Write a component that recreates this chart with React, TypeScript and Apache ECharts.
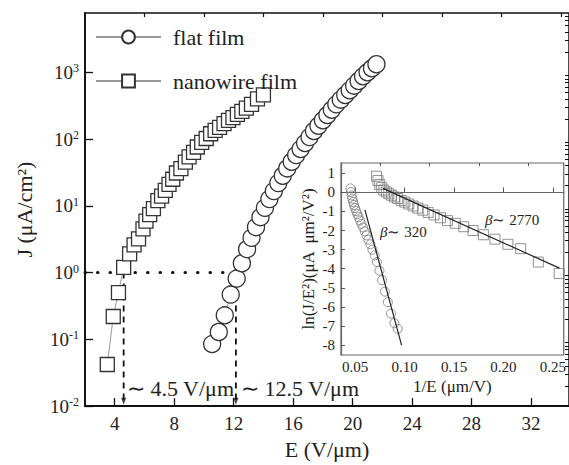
import React, { useEffect, useRef } from "react";
import * as echarts from "echarts";

// ---- main plot data: E (V/um) vs J (uA/cm^2)
const flatE = [10.55, 11.0, 11.4, 11.8, 12.2, 12.55, 12.9, 13.2, 13.5, 13.8, 14.1, 14.4, 14.7, 15.0, 15.3, 15.6, 15.9, 16.2, 16.5, 16.8, 17.1, 17.4, 17.7, 18.0, 18.3, 18.6, 18.9, 19.2, 19.5, 19.8, 20.1, 20.4, 20.7, 21.0, 21.3, 21.6];
const flatJ = [0.085, 0.129, 0.229, 0.468, 0.813, 1.38, 2.24, 3.31, 4.79, 6.76, 9.33, 12.6, 16.6, 21.9, 28.2, 36.3, 45.7, 57.5, 70.8, 87.1, 107, 132, 158, 191, 229, 275, 331, 389, 457, 537, 631, 741, 871, 1000, 1148, 1318];
const nanoE = [3.5, 3.9, 4.25, 4.6, 5.0, 5.3, 5.6, 5.9, 6.1, 6.35, 6.6, 6.9, 7.15, 7.4, 7.65, 7.9, 8.15, 8.45, 8.75, 9.0, 9.3, 9.55, 9.85, 10.15, 10.45, 10.75, 11.05, 11.35, 11.65, 11.95, 12.25, 12.55, 12.85, 13.2, 13.6, 14.0];
const nanoJ = [0.042, 0.22, 0.5, 1.2, 1.9, 2.6, 3.2, 4.5, 5.9, 7.4, 9.1, 12, 14, 17, 21, 25, 31, 36, 45, 54, 63, 76, 89, 102, 120, 135, 150, 170, 190, 210, 235, 260, 290, 330, 400, 460];

// thresholds
const thresholdE = [4.6, 12.15];
const thresholdJ = 1;

// main axes ticks
const xMajor = [4, 8, 12, 16, 20, 24, 28, 32];
const xMinor = [6, 10, 14, 18, 22, 26, 30, 34];
const yMajor = [0.01, 0.1, 1, 10, 100, 1000];
const yMinor = [0.02, 0.03, 0.04, 0.05, 0.06, 0.07, 0.08, 0.09, 0.2, 0.3, 0.4, 0.5, 0.6, 0.7, 0.8, 0.9, 2, 3, 4, 5, 6, 7, 8, 9, 20, 30, 40, 50, 60, 70, 80, 90, 200, 300, 400, 500, 600, 700, 800, 900, 2000, 3000, 4000, 5000, 6000, 7000];

// ---- inset data: 1/E (um/V) vs ln(J/E^2)
const insetFlatX = [0.0451, 0.0457, 0.0464, 0.0471, 0.0479, 0.0488, 0.0498, 0.0509, 0.0521, 0.0534, 0.0548, 0.0563, 0.0579, 0.0596, 0.0614, 0.0633, 0.0653, 0.0674, 0.0697, 0.072, 0.0745, 0.0772, 0.08, 0.083, 0.0862, 0.0896, 0.093];
const insetFlatY = [0.21, 0.02, -0.16, -0.33, -0.5, -0.66, -0.82, -0.98, -1.14, -1.3, -1.47, -1.65, -1.84, -2.04, -2.25, -2.48, -2.72, -3.0, -3.3, -3.65, -4.1, -4.6, -5.2, -5.75, -6.35, -6.85, -7.15];
const insetNanoX = [0.0715, 0.073, 0.0748, 0.0768, 0.079, 0.0814, 0.084, 0.0868, 0.0898, 0.093, 0.0965, 0.1002, 0.1042, 0.1085, 0.1132, 0.1183, 0.1238, 0.1298, 0.1363, 0.1434, 0.1512, 0.1598, 0.1692, 0.1797, 0.1914, 0.2045, 0.2174, 0.2353, 0.2564];
const insetNanoY = [0.85, 0.62, 0.42, 0.25, 0.12, 0.02, -0.07, -0.15, -0.24, -0.32, -0.42, -0.51, -0.61, -0.71, -0.82, -0.93, -1.05, -1.18, -1.33, -1.48, -1.62, -1.8, -2.0, -2.22, -2.45, -2.72, -2.95, -3.65, -4.25];
const insetFlatFit = [[0.0598, -0.92], [0.0969, -8.0]];
const insetNanoFit = [[0.078, 0.21], [0.2567, -3.97]];
const insetXMajor = [0.05, 0.1, 0.15, 0.2, 0.25];
const insetXMinor = [0.075, 0.125, 0.175, 0.225];
const insetYTicks = [-8, -7, -6, -5, -4, -3, -2, -1, 0, 1];

const FONT = "Liberation Serif";
const INK = "#222";

export default function App() {
  const ref = useRef<HTMLDivElement>(null);
  useEffect(() => {
    document.body.style.margin = "0";
    const chart = echarts.init(ref.current!, undefined, { renderer: "svg" });
    const markerStyle = { color: "#fff", borderColor: "#333", borderWidth: 1.3 };
    const option: any = {
      animation: false,
      legend: {
        left: 95,
        top: 26,
        orient: "vertical",
        itemWidth: 65,
        itemHeight: 16,
        itemGap: 22,
        padding: 0,
        textStyle: { fontFamily: FONT, fontSize: 22, color: INK, padding: [0, 0, 0, 7] },
        data: ["flat film", "nanowire film"],
        selectedMode: false,
      },
      grid: [
        { left: 85, right: -2, top: 13, bottom: 54, show: true, borderColor: "#111", borderWidth: 1.5, backgroundColor: "transparent" },
        { left: 341, right: -2, top: 163, bottom: 110, show: true, borderColor: "#666", borderWidth: 1.2, backgroundColor: "#fff" },
      ],
      xAxis: [
        {
          type: "value", gridIndex: 0, min: 2, max: 34.55,
          name: "E (V/\u03bcm)", nameLocation: "middle", nameGap: 30,
          nameTextStyle: { fontFamily: FONT, fontSize: 22, color: INK },
          axisLine: { lineStyle: { color: "#111", width: 1.8 } },
          axisTick: { inside: true, length: 8, customValues: xMajor, lineStyle: { color: "#111", width: 1.3 } },
          axisLabel: { customValues: xMajor, fontFamily: FONT, fontSize: 19, color: INK, margin: 8 },
          splitLine: { show: false },
        },
        {
          type: "value", gridIndex: 0, min: 2, max: 34.55,
          axisLine: { show: false },
          axisTick: { inside: true, length: 4, customValues: xMinor, lineStyle: { color: "#111", width: 1.2 } },
          axisLabel: { show: false },
          splitLine: { show: false },
        },
        {
          type: "value", gridIndex: 1, min: 0.0356, max: 0.261,
          name: "1/E (\u03bcm/V)", nameLocation: "middle", nameGap: 23,
          nameTextStyle: { fontFamily: FONT, fontSize: 17, color: INK },
          axisLine: { lineStyle: { color: "#666", width: 1.2 } },
          axisTick: { inside: true, length: 5, customValues: insetXMajor, lineStyle: { color: "#555" } },
          axisLabel: { customValues: insetXMajor, fontFamily: FONT, fontSize: 15, color: INK, margin: 4, formatter: (v: number) => v.toFixed(2) },
          splitLine: { show: false },
        },
        {
          type: "value", gridIndex: 1, min: 0.0356, max: 0.261,
          axisLine: { show: false },
          axisTick: { inside: true, length: 3, customValues: insetXMinor, lineStyle: { color: "#555" } },
          axisLabel: { show: false },
          splitLine: { show: false },
        },
      ],
      yAxis: [
        {
          type: "log", gridIndex: 0, min: 0.01, max: 7730, logBase: 10,
          name: "J (\u03bcA/cm\u00b2)", nameLocation: "middle", nameGap: 50,
          nameTextStyle: { fontFamily: FONT, fontSize: 22, color: INK },
          axisLine: { lineStyle: { color: "#111", width: 1.8 } },
          axisTick: { inside: true, length: 8, customValues: yMajor, lineStyle: { color: "#111", width: 1.3 } },
          axisLabel: {
            customValues: yMajor, margin: 6,
            formatter: (v: number) => `{b|10}{s|${Math.round(Math.log10(v))}}`,
            rich: {
              b: { fontFamily: FONT, fontSize: 19, color: INK },
              s: { fontFamily: FONT, fontSize: 12, color: INK, verticalAlign: "top", padding: [0, 0, 8, 0] },
            },
          },
          splitLine: { show: false },
        },
        {
          type: "log", gridIndex: 0, min: 0.01, max: 7730, logBase: 10,
          axisLine: { show: false },
          axisTick: { inside: true, length: 4, customValues: yMinor, lineStyle: { color: "#111", width: 1 } },
          axisLabel: { show: false },
          splitLine: { show: false },
        },
        {
          type: "value", gridIndex: 1, min: -8.52, max: 1.54,
          name: "ln(J/E\u00b2)(\u03bcA  \u03bcm\u00b2/V\u00b2)", nameLocation: "middle", nameGap: 24,
          nameTextStyle: { fontFamily: FONT, fontSize: 17, color: INK },
          axisLine: { lineStyle: { color: "#666", width: 1.2 } },
          axisTick: { inside: true, length: 4, customValues: insetYTicks, lineStyle: { color: "#555" } },
          axisLabel: { customValues: insetYTicks, fontFamily: FONT, fontSize: 15, color: INK, margin: 6 },
          splitLine: { show: false },
        },
      ],
      series: [
        {
          type: "line", name: "threshold-h", xAxisIndex: 0, yAxisIndex: 0, silent: true, symbol: "none",
          data: [[2, thresholdJ], [thresholdE[1], thresholdJ]],
          lineStyle: { color: "#111", width: 3, type: [0.5, 12], cap: "round" },
          z: 1,
        },
        ...thresholdE.map((e) => ({
          type: "line", xAxisIndex: 0, yAxisIndex: 0, silent: true, symbol: "none",
          data: [[e, thresholdJ], [e, 0.0108]],
          lineStyle: { color: "#111", width: 1.8, type: [6, 5] },
          z: 1,
        })),
        {
          type: "scatter", xAxisIndex: 0, yAxisIndex: 0, silent: true,
          data: thresholdE.map((e) => [e, 0.0118]),
          symbol: "triangle", symbolRotate: 180, symbolSize: [5, 7],
          itemStyle: { color: "#111" },
          z: 1,
        },
        {
          type: "line", name: "flat film", xAxisIndex: 0, yAxisIndex: 0,
          data: flatE.map((e, i) => [e, flatJ[i]]),
          symbol: "circle", symbolSize: 17, itemStyle: markerStyle,
          lineStyle: { color: "#999", width: 1 }, emphasis: { disabled: true },
        },
        {
          type: "line", name: "nanowire film", xAxisIndex: 0, yAxisIndex: 0,
          data: nanoE.map((e, i) => [e, nanoJ[i]]),
          symbol: "rect", symbolSize: 14, itemStyle: markerStyle,
          lineStyle: { color: "#999", width: 1 }, emphasis: { disabled: true },
        },
        {
          type: "scatter", xAxisIndex: 2, yAxisIndex: 2, silent: true,
          data: insetFlatX.map((x, i) => [x, insetFlatY[i]]),
          symbol: "circle", symbolSize: 9,
          itemStyle: { color: "transparent", borderColor: "#777", borderWidth: 1 },
          z: 5,
        },
        {
          type: "scatter", xAxisIndex: 2, yAxisIndex: 2, silent: true,
          data: insetNanoX.map((x, i) => [x, insetNanoY[i]]),
          symbol: "rect", symbolSize: 10,
          itemStyle: { color: "transparent", borderColor: "#777", borderWidth: 1 },
          z: 5,
        },
        {
          type: "line", xAxisIndex: 2, yAxisIndex: 2, silent: true, symbol: "none",
          data: insetFlatFit, lineStyle: { color: "#222", width: 1.2 }, z: 6,
        },
        {
          type: "line", xAxisIndex: 2, yAxisIndex: 2, silent: true, symbol: "none",
          data: insetNanoFit, lineStyle: { color: "#222", width: 1.2 }, z: 6,
        },
      ],
      graphic: [
        { type: "text", left: 127, top: 377, style: { text: "\u223c 4.5 V/\u03bcm", fontFamily: FONT, fontSize: 22, fill: INK } },
        { type: "text", left: 241, top: 377, style: { text: "\u223c 12.5 V/\u03bcm", fontFamily: FONT, fontSize: 22, fill: INK } },
        {
          type: "text", left: 485, top: 212, z: 10,
          style: {
            text: "{i|\u03b2}{n|\u223c 2770}",
            rich: { i: { fontFamily: FONT, fontStyle: "italic", fontSize: 15, fill: INK }, n: { fontFamily: FONT, fontSize: 15, fill: INK } },
          },
        },
        {
          type: "text", left: 380, top: 224, z: 10,
          style: {
            text: "{i|\u03b2}{n|\u223c 320}",
            rich: { i: { fontFamily: FONT, fontStyle: "italic", fontSize: 15, fill: INK }, n: { fontFamily: FONT, fontSize: 15, fill: INK } },
          },
        },
      ],
    };
    chart.setOption(option);
    return () => chart.dispose();
  }, []);
  return <div ref={ref} style={{ width: 569, height: 465, fontFamily: "Liberation Serif" }} />;
}
